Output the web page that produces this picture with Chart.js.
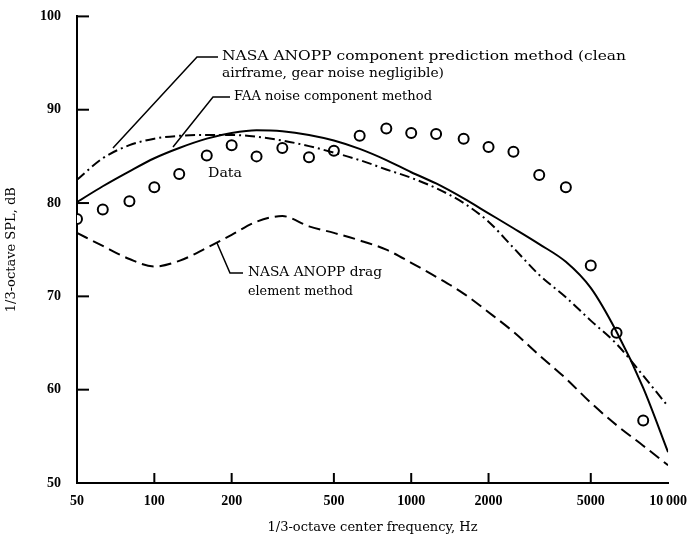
<!DOCTYPE html>
<html>
<head>
<meta charset="utf-8">
<script src="https://cdn.jsdelivr.net/npm/chart.js@4.4.0/dist/chart.umd.min.js"></script>
<style>
  html, body { margin: 0; padding: 0; background: #fff; }
  #wrap { width: 689px; height: 539px; }
</style>
</head>
<body>
<div id="wrap"><canvas id="grafico" width="689" height="539"></canvas></div>
<script>
// dati
var bande = [50, 63, 80, 100, 125, 160, 200, 250, 315, 400, 500, 630, 800, 1000, 1250, 1600, 2000, 2500, 3150, 4000, 5000, 6300, 8000];
var misure = [78.3, 79.3, 80.2, 81.7, 83.1, 85.1, 86.2, 85.0, 85.9, 84.9, 85.6, 87.2, 88.0, 87.5, 87.4, 86.9, 86.0, 85.5, 83.0, 81.7, 73.3, 66.1, 56.7];

var frequenzeCurve = [50, 63, 80, 100, 125, 160, 200, 250, 315, 400, 500, 630, 800, 1000, 1250, 1600, 2000, 2500, 3150, 4000, 5000, 6300, 8000, 10000];
var faa = [80.1, 81.8, 83.4, 84.8, 85.9, 86.9, 87.5, 87.8, 87.7, 87.3, 86.7, 85.8, 84.6, 83.3, 82.1, 80.5, 78.9, 77.3, 75.6, 73.7, 70.9, 66.2, 60.2, 53.3];
var anoppComponenti = [82.5, 84.8, 86.2, 86.9, 87.2, 87.3, 87.3, 87.1, 86.7, 86.1, 85.4, 84.6, 83.6, 82.7, 81.6, 80.0, 78.0, 75.2, 72.3, 69.9, 67.4, 64.9, 61.5, 58.2];
var anoppDrag = [76.8, 75.4, 74.0, 73.2, 73.8, 75.2, 76.6, 78.0, 78.6, 77.5, 76.8, 76.0, 75.0, 73.6, 72.1, 70.3, 68.3, 66.2, 63.7, 61.2, 58.6, 56.2, 54.0, 51.9];

var tickX = [50, 100, 200, 500, 1000, 2000, 5000, 10000];
var tickY = [50, 60, 70, 80, 90, 100];

function punti(xs, ys) {
  return xs.map(function(x, i){ return {x: x, y: ys[i]}; });
}

var serif = '"DejaVu Serif", "Liberation Serif", serif';

// scrive il testo allargandolo fino alla larghezza voluta
function scriviLargo(c, testo, x, y, larghezza) {
  var w = c.measureText(testo).width;
  c.save();
  c.translate(x, y);
  c.scale(larghezza / w, 1);
  c.fillText(testo, 0, 0);
  c.restore();
}

// tacche interne + didascalie
var decorazioni = {
  id: 'decorazioni',
  afterDraw: function(chart){
    var c = chart.ctx;
    var sx = chart.scales.x, sy = chart.scales.y;
    c.save();
    c.strokeStyle = '#000';
    c.lineWidth = 2;
    tickX.forEach(function(v){
      if (v == 50 || v == 10000) return;
      var px = sx.getPixelForValue(v);
      c.beginPath(); c.moveTo(px, sy.bottom); c.lineTo(px, sy.bottom - 10); c.stroke();
    });
    tickY.forEach(function(v){
      if (v == 50) return;
      var py = sy.getPixelForValue(v);
      c.beginPath(); c.moveTo(sx.left, py); c.lineTo(sx.left + 12, py); c.stroke();
    });

    // linee di richiamo
    c.lineWidth = 1.5;
    var richiami = [
      [[218, 57], [197, 57], [113, 148]],
      [[230, 97], [213, 97], [173, 147]],
      [[217, 243], [230, 273], [243, 273]]
    ];
    richiami.forEach(function(r){
      c.beginPath();
      c.moveTo(r[0][0], r[0][1]);
      for (var i = 1; i < r.length; i++) c.lineTo(r[i][0], r[i][1]);
      c.stroke();
    });

    c.fillStyle = '#000';
    c.font = '13px ' + serif;
    c.textBaseline = 'middle';
    c.textAlign = 'left';
    scriviLargo(c, 'NASA ANOPP component prediction method (clean', 222, 57, 404);
    scriviLargo(c, 'airframe, gear noise negligible)', 222, 74, 222);
    scriviLargo(c, 'FAA noise component method', 234, 97, 198);
    scriviLargo(c, 'Data', 208, 174, 34);
    scriviLargo(c, 'NASA ANOPP drag', 248, 273, 134);
    scriviLargo(c, 'element method', 248, 292, 105);
    c.restore();
  }
};

var ctx = document.getElementById('grafico');
var chart = new Chart(ctx, {
  type: 'line',
  data: {
    datasets: [
      {
        label: 'NASA ANOPP component prediction method',
        data: punti(frequenzeCurve, anoppComponenti),
        borderColor: '#000',
        borderWidth: 2,
        borderDash: [10, 4, 2, 4],
        pointRadius: 0,
        cubicInterpolationMode: 'monotone',
        fill: false
      },
      {
        label: 'FAA noise component method',
        data: punti(frequenzeCurve, faa),
        borderColor: '#000',
        borderWidth: 2,
        pointRadius: 0,
        cubicInterpolationMode: 'monotone',
        fill: false
      },
      {
        label: 'NASA ANOPP drag element method',
        data: punti(frequenzeCurve, anoppDrag),
        borderColor: '#000',
        borderWidth: 2,
        borderDash: [12, 6],
        pointRadius: 0,
        cubicInterpolationMode: 'monotone',
        fill: false
      },
      {
        label: 'Data',
        data: punti(bande, misure),
        showLine: false,
        pointStyle: 'circle',
        pointRadius: 5,
        pointBorderWidth: 2,
        pointBorderColor: '#000',
        pointBackgroundColor: '#fff'
      }
    ]
  },
  options: {
    responsive: false,
    animation: false,
    layout: { padding: { top: 14, right: 18, left: 0, bottom: 0 } },
    plugins: { legend: { display: false }, tooltip: { enabled: false } },
    scales: {
      x: {
        type: 'logarithmic',
        min: 50,
        max: 10000,
        afterBuildTicks: function(scale){
          scale.ticks = tickX.map(function(v){ return {value: v}; });
        },
        afterFit: function(scale){ scale.height = 56; },
        grid: { display: false },
        border: { display: true, color: '#000', width: 2 },
        ticks: {
          color: '#000',
          padding: 2,
          maxRotation: 0,
          autoSkip: false,
          font: { family: '"Liberation Serif", serif', size: 14, weight: 'bold' },
          callback: function(v){ return v == 10000 ? '10\u2009000' : String(v); }
        },
        title: {
          display: true,
          text: '1/3-octave center frequency, Hz',
          color: '#000',
          padding: { top: 6 },
          font: { family: serif, size: 13 }
        }
      },
      y: {
        min: 50,
        max: 100,
        afterBuildTicks: function(scale){
          scale.ticks = tickY.map(function(v){ return {value: v}; });
        },
        afterFit: function(scale){ scale.width = 77; },
        grid: { display: false },
        border: { display: true, color: '#000', width: 2 },
        ticks: {
          color: '#000',
          padding: 8,
          font: { family: '"Liberation Serif", serif', size: 14, weight: 'bold' }
        },
        title: {
          display: true,
          text: '1/3-octave SPL, dB',
          color: '#000',
          padding: { bottom: 2 },
          font: { family: serif, size: 13 }
        }
      }
    }
  },
  plugins: [decorazioni]
});
</script>
</body>
</html>
